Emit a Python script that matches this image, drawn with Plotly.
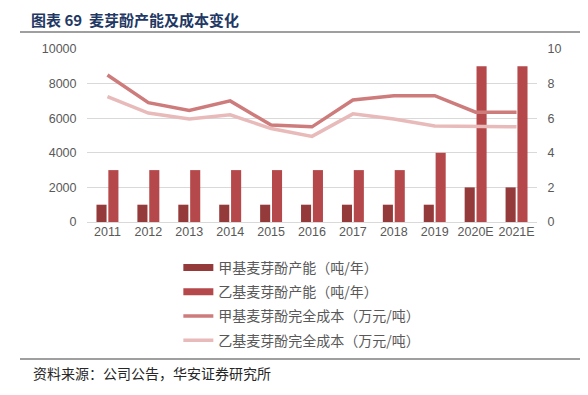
import plotly.graph_objects as go

years = ["2011", "2012", "2013", "2014", "2015", "2016", "2017", "2018", "2019", "2020E", "2021E"]
cap_methyl = [1000, 1000, 1000, 1000, 1000, 1000, 1000, 1000, 1000, 2000, 2000]
cap_ethyl = [3000, 3000, 3000, 3000, 3000, 3000, 3000, 3000, 4000, 9000, 9000]
cost_methyl = [8.5, 6.9, 6.45, 7.0, 5.6, 5.5, 7.05, 7.3, 7.3, 6.35, 6.35]
cost_ethyl = [7.25, 6.3, 5.95, 6.2, 5.4, 4.95, 6.25, 5.95, 5.55, 5.5, 5.5]

names = ["甲基麦芽酚产能（吨/年）", "乙基麦芽酚产能（吨/年）",
         "甲基麦芽酚完全成本（万元/吨）", "乙基麦芽酚完全成本（万元/吨）"]
colors = ["#943A3A", "#B5484A", "#CD7B7B", "#E8BABA"]

font = "Noto Sans CJK SC"
numfont = "Liberation Sans, Arial"
fig = go.Figure()
fig.add_trace(go.Bar(x=years, y=cap_methyl, name=names[0], marker_color=colors[0],
                     marker_line_width=0, showlegend=False))
fig.add_trace(go.Bar(x=years, y=cap_ethyl, name=names[1], marker_color=colors[1],
                     marker_line_width=0, showlegend=False))
fig.add_trace(go.Scatter(x=years, y=cost_methyl, name=names[2], yaxis="y2", mode="lines",
                         line=dict(color=colors[2], width=3.5), showlegend=False))
fig.add_trace(go.Scatter(x=years, y=cost_ethyl, name=names[3], yaxis="y2", mode="lines",
                         line=dict(color=colors[3], width=3.5), showlegend=False))

# legend entries (bars shown as wide rectangles like the reference)
for i, (nm, c) in enumerate(zip(names, colors)):
    fig.add_trace(go.Scatter(x=[None], y=[None], name=nm, mode="lines",
                             line=dict(color=c, width=7 if i < 2 else 3.5),
                             legendgroup=f"g{i}", showlegend=True))

# page body has an 8px margin, so the figure is 8px smaller and shifted
fig.update_layout(
    width=580, height=387,
    margin=dict(l=79, r=51, t=41, b=173, autoexpand=False),
    paper_bgcolor="white", plot_bgcolor="white",
    barmode="group", bargap=0.42, bargroupgap=0.15,
    font=dict(family=font, size=12, color="#595959"),
    showlegend=True,
    legend=dict(x=0.203, y=-0.173, xanchor="left", yanchor="top", orientation="v",
                font=dict(size=14, color="#595959"), tracegroupgap=3,
                bgcolor="rgba(0,0,0,0)"),
    xaxis=dict(showgrid=False, tickfont=dict(size=12.5, color="#595959", family=numfont),
               showline=False, ticks="", automargin=False),
    yaxis=dict(range=[0, 10000], dtick=2000, tickformat="d", showgrid=True,
               gridcolor="#D9D9D9", gridwidth=1,
               zeroline=True, zerolinecolor="#D9D9D9", zerolinewidth=1,
               tickfont=dict(size=12.5, color="#595959", family=numfont),
               ticks="outside", tickcolor="rgba(0,0,0,0)", ticklen=7, automargin=False),
    yaxis2=dict(range=[0, 10], dtick=2, overlaying="y", side="right", showgrid=False,
                zeroline=False,
                tickfont=dict(size=12.5, color="#595959", family=numfont),
                ticks="outside", tickcolor="rgba(0,0,0,0)", ticklen=7, automargin=False),
)

# header title and rules
fig.add_annotation(text="<b>图表 69  麦芽酚产能及成本变化</b>", xref="paper", yref="paper",
                   x=-(87 - 30) / 450, y=1 + (49 - 19.5) / 173, xanchor="left", yanchor="middle",
                   showarrow=False, borderpad=0,
                   font=dict(family=font, size=15, color="#1F3864"))
fig.add_shape(type="line", xref="paper", yref="paper",
              x0=-(87 - 20) / 450, x1=1 + (580 - 537) / 450,
              y0=1 + (49 - 32) / 173, y1=1 + (49 - 32) / 173,
              line=dict(color="#7F7F7F", width=1.5))
fig.add_shape(type="line", xref="paper", yref="paper",
              x0=-(87 - 20) / 450, x1=1 + (580 - 537) / 450,
              y0=-(359 - 222) / 173, y1=-(359 - 222) / 173,
              line=dict(color="#7F7F7F", width=1.5))
fig.add_annotation(text="资料来源：公司公告，华安证券研究所", xref="paper", yref="paper",
                   x=-(87 - 31) / 450, y=-(373 - 222) / 173, xanchor="left", yanchor="middle",
                   showarrow=False, font=dict(family=font, size=14, color="#262626"))

fig.write_html("out.html")
